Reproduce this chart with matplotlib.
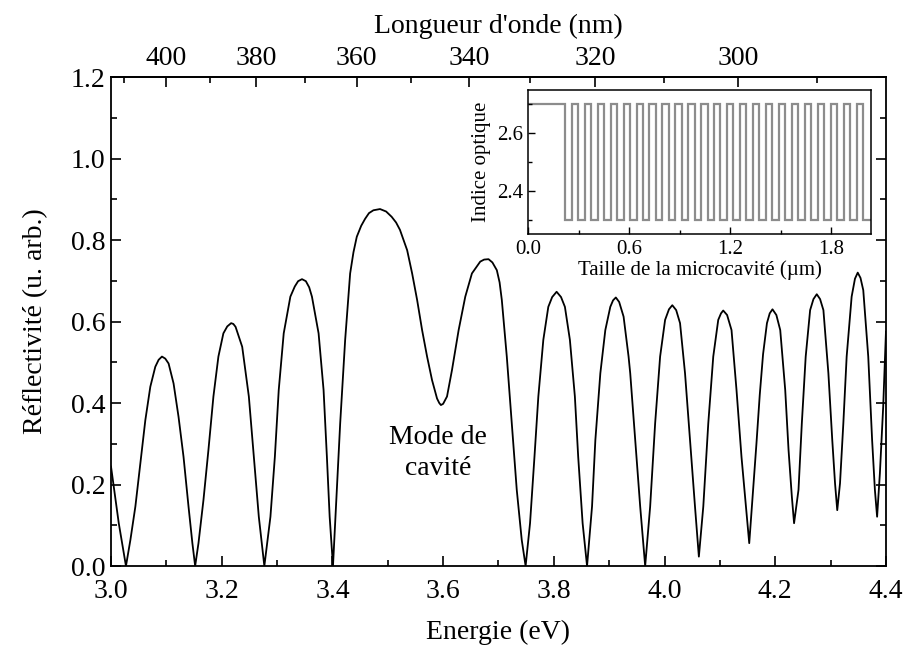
import numpy as np
import matplotlib

matplotlib.use("Agg")
import matplotlib.pyplot as plt
from matplotlib.ticker import MultipleLocator, FixedLocator

plt.rcParams["font.family"] = ["Liberation Serif", "DejaVu Serif"]

# Réflectivité : énergie (eV), une ligne par arche
energy = [
    3.000, 3.014, 3.027,
    3.035, 3.044, 3.053, 3.062, 3.071, 3.080, 3.086, 3.092, 3.098, 3.104, 3.113, 3.122, 3.131, 3.140, 3.147, 3.152,
    3.158, 3.167, 3.176, 3.185, 3.194, 3.203, 3.210, 3.217, 3.221, 3.225, 3.237, 3.249, 3.258, 3.267, 3.277,
    3.288, 3.296, 3.303, 3.312, 3.324, 3.332, 3.338, 3.345, 3.352, 3.358, 3.363, 3.375, 3.384, 3.390, 3.395, 3.401,
    3.408, 3.414, 3.423, 3.432, 3.438, 3.444, 3.452, 3.459, 3.466, 3.474, 3.486, 3.497, 3.507, 3.515, 3.522, 3.535,
    3.544, 3.553, 3.562, 3.571, 3.580, 3.589, 3.593, 3.596,
    3.600, 3.607, 3.616, 3.628, 3.640, 3.652, 3.667, 3.674, 3.682, 3.689, 3.697, 3.702, 3.706, 3.715, 3.724, 3.733,
    3.742, 3.749,
    3.757, 3.765, 3.772, 3.781, 3.790, 3.797, 3.805, 3.813, 3.820, 3.829, 3.838, 3.844, 3.852, 3.860,
    3.869, 3.875, 3.884, 3.893, 3.902, 3.907, 3.912, 3.918, 3.926, 3.935, 3.938, 3.947, 3.956, 3.965,
    3.974, 3.983, 3.992, 4.001, 4.008, 4.014, 4.021, 4.028, 4.037, 4.046, 4.055, 4.062,
    4.070, 4.079, 4.088, 4.097, 4.102, 4.106, 4.113, 4.121, 4.130, 4.139, 4.147, 4.153,
    4.160, 4.166, 4.172, 4.178, 4.185, 4.190, 4.195, 4.202, 4.209, 4.218, 4.224, 4.230, 4.234,
    4.242, 4.248, 4.255, 4.263, 4.269, 4.275, 4.281, 4.287, 4.296, 4.303, 4.308, 4.312,
    4.317, 4.323, 4.329, 4.338, 4.344, 4.349, 4.354, 4.359, 4.368, 4.375, 4.380, 4.384,
    4.389, 4.395, 4.400,
]
reflectivity = [
    0.244, 0.105, 0.000,
    0.064, 0.146, 0.252, 0.358, 0.440, 0.489, 0.506, 0.514, 0.509, 0.497, 0.448, 0.366, 0.268, 0.146, 0.056, 0.000,
    0.056, 0.162, 0.285, 0.416, 0.514, 0.571, 0.588, 0.596, 0.594, 0.587, 0.538, 0.416, 0.268, 0.121, 0.000,
    0.121, 0.268, 0.432, 0.571, 0.661, 0.686, 0.699, 0.704, 0.699, 0.684, 0.661, 0.571, 0.432, 0.268, 0.121, 0.000,
    0.187, 0.350, 0.555, 0.718, 0.770, 0.808, 0.835, 0.852, 0.866, 0.873, 0.876, 0.870, 0.857, 0.843, 0.825, 0.775,
    0.718, 0.653, 0.579, 0.514, 0.456, 0.411, 0.400, 0.395,
    0.398, 0.416, 0.481, 0.579, 0.661, 0.718, 0.747, 0.752, 0.753, 0.745, 0.726, 0.696, 0.653, 0.514, 0.350, 0.187,
    0.064, 0.000,
    0.105, 0.268, 0.416, 0.555, 0.636, 0.660, 0.673, 0.660, 0.636, 0.555, 0.416, 0.268, 0.105, 0.000,
    0.146, 0.309, 0.473, 0.579, 0.636, 0.652, 0.659, 0.648, 0.612, 0.514, 0.473, 0.309, 0.146, 0.000,
    0.146, 0.350, 0.514, 0.604, 0.630, 0.640, 0.628, 0.596, 0.473, 0.309, 0.146, 0.023,
    0.146, 0.350, 0.514, 0.604, 0.620, 0.627, 0.616, 0.579, 0.432, 0.268, 0.146, 0.056,
    0.187, 0.300, 0.420, 0.520, 0.596, 0.620, 0.630, 0.616, 0.579, 0.432, 0.285, 0.170, 0.105,
    0.187, 0.350, 0.514, 0.628, 0.655, 0.667, 0.655, 0.628, 0.473, 0.309, 0.203, 0.137,
    0.203, 0.350, 0.514, 0.661, 0.705, 0.720, 0.707, 0.677, 0.514, 0.309, 0.187, 0.121,
    0.227, 0.391, 0.575,
]
assert len(energy) == len(reflectivity)

# Profil d'indice de la microcavité (µm)
cavity_thickness = 0.218
layer_low = 0.040
layer_high = 0.037
n_pairs = 23
n_high = 2.7
n_low = 2.3
last_layer = 0.06

# Axe du haut : longueurs d'onde (nm)
wl_major = [400, 380, 360, 340, 320, 300]
wl_minor = [410, 390, 370, 350, 330, 310, 290]
HC = 1239.84

fig = plt.figure(figsize=(9.07, 6.5), dpi=100)
ax = fig.add_axes([0.1224, 0.1292, 0.8544, 0.7523])

ax.plot(energy, reflectivity, color="black", lw=1.3)
ax.set_xlim(3.0, 4.4)
ax.set_ylim(0.0, 1.2)
ax.xaxis.set_major_locator(MultipleLocator(0.2))
ax.xaxis.set_minor_locator(MultipleLocator(0.1))
ax.yaxis.set_major_locator(MultipleLocator(0.2))
ax.yaxis.set_minor_locator(MultipleLocator(0.1))
ax.xaxis.set_major_formatter(plt.FormatStrFormatter("%.1f"))
ax.yaxis.set_major_formatter(plt.FormatStrFormatter("%.1f"))
ax.tick_params(which="both", direction="in", right=True, top=False,
               labelsize=20, width=1.2)
ax.tick_params(which="major", length=7, pad=4)
ax.tick_params(axis="x", which="major", pad=9)
ax.tick_params(which="minor", length=4)
for s in ax.spines.values():
    s.set_linewidth(1.3)
ax.set_xlabel("Energie (eV)", fontsize=20, labelpad=12)
ax.set_ylabel("Réflectivité (u. arb.)", fontsize=20, labelpad=16)

ax.text(3.591, 0.277, "Mode de\ncavité", fontsize=20, ha="center",
        va="center", linespacing=1.3)


def e_to_wl(e):
    e = np.asarray(e, dtype=float)
    with np.errstate(divide="ignore"):
        return HC / e


top = ax.secondary_xaxis("top", functions=(e_to_wl, e_to_wl))
top.xaxis.set_major_locator(FixedLocator(wl_major))
top.xaxis.set_minor_locator(FixedLocator(wl_minor))
top.tick_params(which="both", direction="in", labelsize=20, width=1.2)
top.tick_params(which="major", length=7, pad=4)
top.tick_params(which="minor", length=4)
top.spines["top"].set_linewidth(1.3)
top.set_xlabel("Longueur d'onde (nm)", fontsize=20, labelpad=10)

# Encart : profil d'indice
ins = fig.add_axes([0.5825, 0.64, 0.3775, 0.2215])
edges = [0.0, cavity_thickness]
values = [n_high]
for i in range(n_pairs):
    edges.append(edges[-1] + layer_low)
    values.append(n_low)
    edges.append(edges[-1] + layer_high)
    values.append(n_high)
edges.append(edges[-1] + last_layer)
values.append(n_low)
ins.stairs(values, edges, baseline=None, color="#8c8c8c", lw=1.6)
ins.set_xlim(0.0, 2.035)
ins.set_ylim(2.25, 2.75)
ins.xaxis.set_major_locator(MultipleLocator(0.6))
ins.xaxis.set_minor_locator(MultipleLocator(0.3))
ins.yaxis.set_major_locator(MultipleLocator(0.2))
ins.yaxis.set_minor_locator(MultipleLocator(0.1))
ins.xaxis.set_major_formatter(plt.FormatStrFormatter("%.1f"))
ins.yaxis.set_major_formatter(plt.FormatStrFormatter("%.1f"))
ins.tick_params(which="both", direction="in", labelsize=15, width=1.0)
ins.tick_params(which="major", length=5, pad=4)
ins.tick_params(which="minor", length=3)
for s in ins.spines.values():
    s.set_linewidth(1.1)
ins.set_xlabel("Taille de la microcavité (µm)", fontsize=15, labelpad=1)
ins.set_ylabel("Indice optique", fontsize=15, labelpad=4)

fig.savefig("out.png", dpi=100)
